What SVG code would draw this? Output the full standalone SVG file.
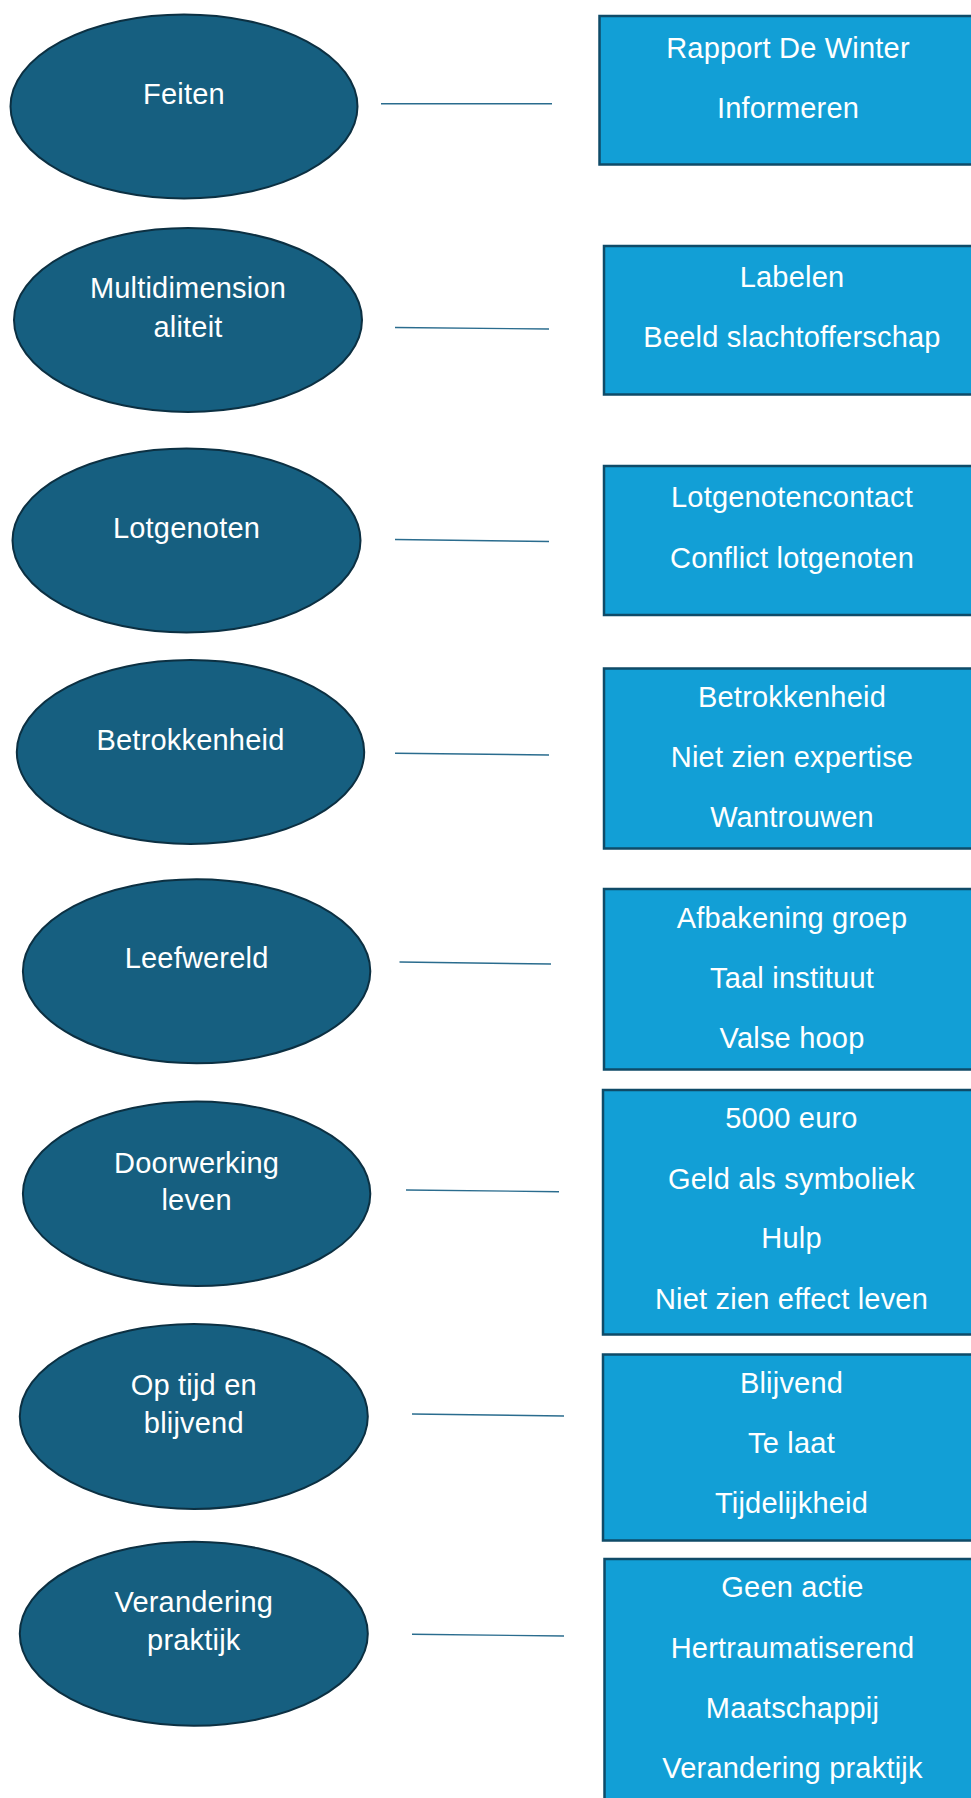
<svg xmlns="http://www.w3.org/2000/svg" width="971" height="1798" viewBox="0 0 971 1798">
<style>
.bg{fill:#ffffff}
.topic ellipse{fill:#165f80;stroke:#0c3042;stroke-width:2}
.box rect{fill:#129fd6;stroke:#0f4b68;stroke-width:2.5}
text{font-family:"Liberation Sans",Arial,sans-serif;font-size:29px;letter-spacing:0.2px;fill:#ffffff;text-anchor:middle}
.conn line{stroke:#2a6c8e;stroke-width:1.4}
</style>
<rect class="bg" x="0" y="0" width="971" height="1798"/>
<g class="conn">
<line x1="381" y1="103.7" x2="552" y2="103.7"/>
<line x1="395" y1="327.5" x2="549" y2="329"/>
<line x1="395" y1="539.5" x2="549" y2="541.5"/>
<line x1="395" y1="753.3" x2="549" y2="755"/>
<line x1="399.5" y1="962" x2="551" y2="964"/>
<line x1="406" y1="1190" x2="559" y2="1191.7"/>
<line x1="412" y1="1414" x2="564" y2="1416"/>
<line x1="412" y1="1634.3" x2="564" y2="1636"/>
</g>
<g id="n-feiten" class="topic"><ellipse cx="184" cy="106.5" rx="173.5" ry="92"/><text x="184" y="104">Feiten</text></g>
<g id="n-multi" class="topic"><ellipse cx="188" cy="320" rx="174" ry="92"/><text x="188" y="298">Multidimension</text><text x="188" y="337">aliteit</text></g>
<g id="n-lotgenoten" class="topic"><ellipse cx="186.5" cy="540.5" rx="174" ry="92"/><text x="186.5" y="538">Lotgenoten</text></g>
<g id="n-betrokkenheid" class="topic"><ellipse cx="190.5" cy="752" rx="173.7" ry="92"/><text x="190.5" y="750">Betrokkenheid</text></g>
<g id="n-leefwereld" class="topic"><ellipse cx="196.6" cy="971.2" rx="173.7" ry="92"/><text x="196.6" y="968.3">Leefwereld</text></g>
<g id="n-doorwerking" class="topic"><ellipse cx="196.6" cy="1193.8" rx="173.7" ry="92.2"/><text x="196.6" y="1172.7">Doorwerking</text><text x="196.6" y="1210">leven</text></g>
<g id="n-optijd" class="topic"><ellipse cx="193.8" cy="1416.5" rx="174" ry="92.5"/><text x="193.8" y="1395">Op tijd en</text><text x="193.8" y="1433.3">blijvend</text></g>
<g id="n-verandering" class="topic"><ellipse cx="193.8" cy="1633.8" rx="174" ry="92"/><text x="193.8" y="1611.7">Verandering</text><text x="193.8" y="1650">praktijk</text></g>
<g id="b-feiten" class="box"><rect x="599.5" y="16" width="377" height="148.5"/><text x="788" y="58">Rapport De Winter</text><text x="788" y="118">Informeren</text></g>
<g id="b-multi" class="box"><rect x="604" y="246" width="377" height="148.5"/><text x="792" y="287.3">Labelen</text><text x="792" y="346.7">Beeld slachtofferschap</text></g>
<g id="b-lotgenoten" class="box"><rect x="604" y="466" width="377" height="149"/><text x="792" y="507.3">Lotgenotencontact</text><text x="792" y="567.7">Conflict lotgenoten</text></g>
<g id="b-betrokkenheid" class="box"><rect x="604" y="668.5" width="377" height="180"/><text x="792" y="706.7">Betrokkenheid</text><text x="792" y="766.7">Niet zien expertise</text><text x="792" y="826.7">Wantrouwen</text></g>
<g id="b-leefwereld" class="box"><rect x="604" y="889" width="377" height="180.5"/><text x="792" y="927.7">Afbakening groep</text><text x="792" y="987.7">Taal instituut</text><text x="792" y="1047.7">Valse hoop</text></g>
<g id="b-doorwerking" class="box"><rect x="603" y="1090" width="377" height="244.5"/><text x="791.5" y="1128.3">5000 euro</text><text x="791.5" y="1189.3">Geld als symboliek</text><text x="791.5" y="1248.3">Hulp</text><text x="791.5" y="1309.3">Niet zien effect leven</text></g>
<g id="b-optijd" class="box"><rect x="603" y="1354.5" width="377" height="186"/><text x="791.5" y="1393.3">Blijvend</text><text x="791.5" y="1453.3">Te laat</text><text x="791.5" y="1513.3">Tijdelijkheid</text></g>
<g id="b-verandering" class="box"><rect x="604.5" y="1559" width="377" height="260"/><text x="792.5" y="1596.7">Geen actie</text><text x="792.5" y="1657.7">Hertraumatiserend</text><text x="792.5" y="1718.3">Maatschappij</text><text x="792.5" y="1777.7">Verandering praktijk</text></g>
</svg>
